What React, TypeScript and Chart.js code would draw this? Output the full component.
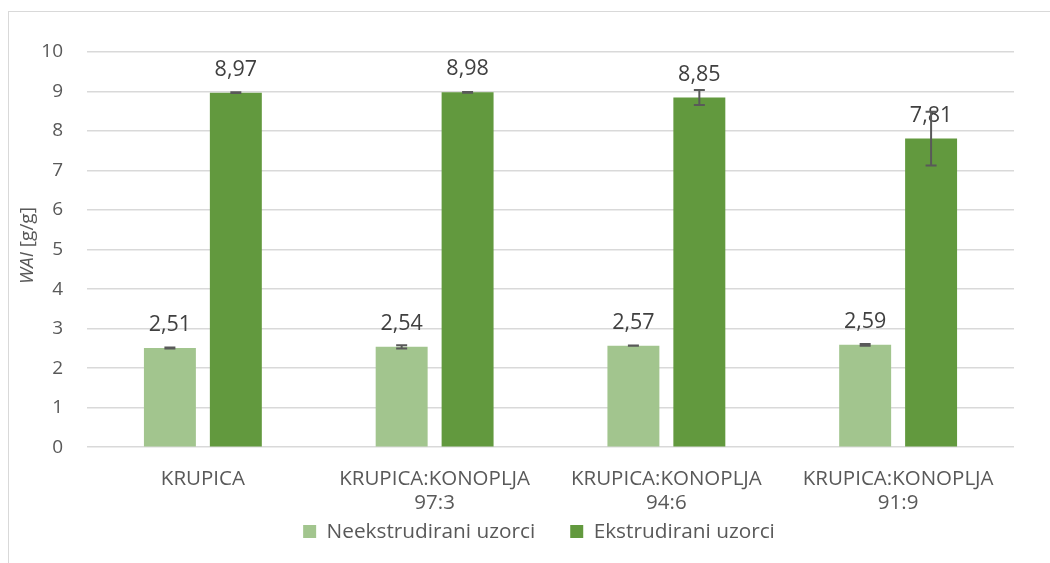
import React, { useEffect, useRef } from "react";
import { Chart, registerables } from "chart.js";

Chart.register(...registerables);

const categories: (string | string[])[] = [
  "KRUPICA",
  ["KRUPICA:KONOPLJA", "97:3"],
  ["KRUPICA:KONOPLJA", "94:6"],
  ["KRUPICA:KONOPLJA", "91:9"],
];
const seriesNames = ["Neekstrudirani uzorci", "Ekstrudirani uzorci"];
const neekstrudirani = [2.51, 2.54, 2.57, 2.59];
const ekstrudirani = [8.97, 8.98, 8.85, 7.81];
const neekstrudiraniErr = [0.01, 0.04, 0.005, 0.02];
const ekstrudiraniErr = [0.01, 0.01, 0.19, 0.68];
const yMin = 0;
const yMax = 10;
const yStep = 1;
const yTitleItalic = "WAI";
const yTitleRest = " [g/g]";

const FONT = '"Open Sans", sans-serif';
const TEXT = "#595959";
const LIGHT = "#A2C58E";
const DARK = "#62993E";

const errors = [neekstrudiraniErr, ekstrudiraniErr];

const overlayPlugin = {
  id: "overlay",
  afterLayout(chart: any) {
    const lg = chart.legend;
    if (lg) {
      lg.top -= 31;
      lg.bottom -= 31;
      lg.left += 32;
      lg.right += 32;
    }
  },
  afterDatasetsDraw(chart: any) {
    const ctx = chart.ctx;
    const yScale = chart.scales.y;
    // data labels
    ctx.save();
    ctx.font = `21.5px ${FONT}`;
    ctx.fillStyle = "#404040";
    ctx.textAlign = "center";
    ctx.textBaseline = "middle";
    chart.data.datasets.forEach((ds: any, di: number) => {
      const meta = chart.getDatasetMeta(di);
      meta.data.forEach((bar: any, i: number) => {
        const v = ds.data[i] as number;
        ctx.fillText(v.toFixed(2).replace(".", ","), bar.x, bar.y - 23);
      });
    });
    ctx.restore();
    // error bars
    ctx.save();
    ctx.strokeStyle = "#595959";
    ctx.lineWidth = 2;
    chart.data.datasets.forEach((ds: any, di: number) => {
      const meta = chart.getDatasetMeta(di);
      meta.data.forEach((bar: any, i: number) => {
        const v = ds.data[i] as number;
        const e = errors[di][i];
        const yTop = yScale.getPixelForValue(v + e);
        const yBot = yScale.getPixelForValue(v - e);
        const cap = 5.5;
        ctx.beginPath();
        ctx.moveTo(bar.x, yTop);
        ctx.lineTo(bar.x, yBot);
        ctx.moveTo(bar.x - cap, yTop);
        ctx.lineTo(bar.x + cap, yTop);
        ctx.moveTo(bar.x - cap, yBot);
        ctx.lineTo(bar.x + cap, yBot);
        ctx.stroke();
      });
    });
    ctx.restore();
    // y axis title
    const area = chart.chartArea;
    ctx.save();
    ctx.translate(28, (area.top + area.bottom) / 2 - 4);
    ctx.rotate(-Math.PI / 2);
    ctx.fillStyle = TEXT;
    ctx.textBaseline = "middle";
    ctx.font = `italic 19px ${FONT}`;
    const w1 = ctx.measureText(yTitleItalic).width;
    ctx.font = `19px ${FONT}`;
    const w2 = ctx.measureText(yTitleRest).width;
    const start = -(w1 + w2) / 2;
    ctx.textAlign = "left";
    ctx.font = `italic 19px ${FONT}`;
    ctx.fillText(yTitleItalic, start, 0);
    ctx.font = `19px ${FONT}`;
    ctx.fillText(yTitleRest, start + w1, 0);
    ctx.restore();
  },
};

export default function App() {
  const ref = useRef<HTMLCanvasElement>(null);
  useEffect(() => {
    if (!ref.current) return;
    const chart = new Chart(ref.current, {
      type: "bar",
      data: {
        labels: categories as any,
        datasets: [
          {
            label: seriesNames[0],
            data: neekstrudirani,
            backgroundColor: LIGHT,
            categoryPercentage: 0.569,
            barPercentage: 0.788,
          },
          {
            label: seriesNames[1],
            data: ekstrudirani,
            backgroundColor: DARK,
            categoryPercentage: 0.569,
            barPercentage: 0.788,
          },
        ],
      },
      options: {
        responsive: false,
        animation: false,
        devicePixelRatio: 1,
        layout: { padding: { top: 52, left: 0, right: 36, bottom: -20 } },
        plugins: {
          legend: {
            position: "bottom",
            labels: {
              boxWidth: 13,
              boxHeight: 13,
              padding: 35,
              color: TEXT,
              font: { family: FONT, size: 20.8 },
            },
          },
          tooltip: { enabled: false },
        },
        scales: {
          x: {
            grid: { display: false, drawTicks: false },
            border: { display: false },
            ticks: {
              color: TEXT,
              padding: 20,
              font: { family: FONT, size: 20.5, lineHeight: 1.17 },
              maxRotation: 0,
              autoSkip: false,
            },
            afterFit: (s: any) => {
              s.height = 70;
            },
          },
          y: {
            min: yMin,
            max: yMax,
            grid: { color: "#D9D9D9", lineWidth: 1.5, drawTicks: false },
            border: { display: false },
            ticks: {
              stepSize: yStep,
              color: TEXT,
              padding: 24,
              font: { family: FONT, size: 19 },
            },
            afterFit: (s: any) => {
              s.width = 87;
            },
          },
        },
      },
      plugins: [overlayPlugin],
    });
    return () => chart.destroy();
  }, []);
  return (
    <div
      style={{
        position: "fixed",
        left: 0,
        top: 0,
        width: 1050,
        height: 563,
        overflow: "hidden",
        background: "#fff",
      }}
    >
      <div
        style={{
          position: "absolute",
          left: 8,
          top: 11,
          width: 1100,
          height: 600,
          border: "1px solid #D9D9D9",
        }}
      />
      <canvas
        ref={ref}
        width={1050}
        height={563}
        style={{ position: "absolute", left: 0, top: 0, width: 1050, height: 563 }}
      />
    </div>
  );
}
